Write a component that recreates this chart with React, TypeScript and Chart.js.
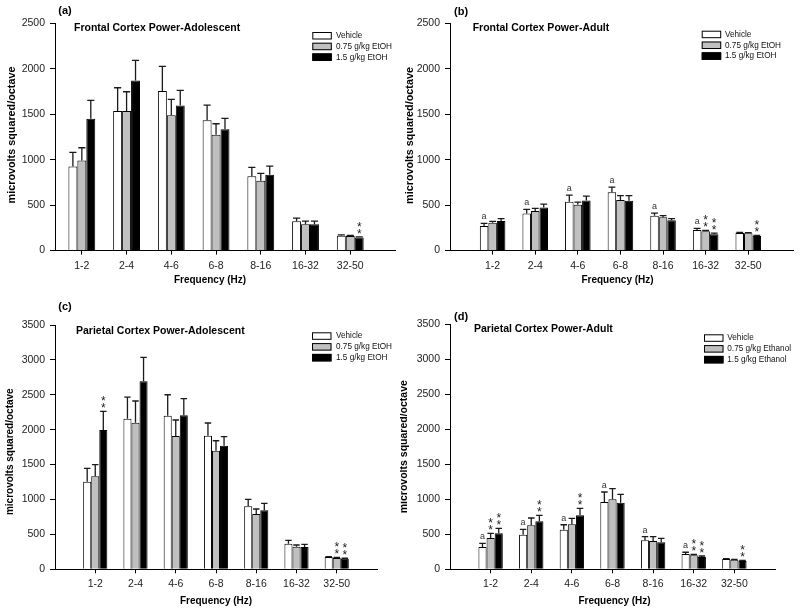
import React, { useEffect, useRef } from 'react';
import { Chart, registerables } from 'chart.js';

Chart.register(...registerables);

// ---------- shared labels ----------
const categories = ['1-2', '2-4', '4-6', '6-8', '8-16', '16-32', '32-50'];
const legendEtOH = ['Vehicle', '0.75 g/kg EtOH', '1.5 g/kg EtOH'];
const legendEthanol = ['Vehicle', '0.75 g/kg Ethanol', '1.5 g/kg Ethanol'];
const yTicksFrontal = [0, 500, 1000, 1500, 2000, 2500];
const yTicksParietal = [0, 500, 1000, 1500, 2000, 2500, 3000, 3500];
const xAxisTitle = 'Frequency (Hz)';
const yAxisTitle = 'microvolts squared/octave';

// ---------- (a) Frontal Cortex Power-Adolescent ----------
const aVehicle = [925, 1535, 1755, 1435, 819, 324, 163];
const aVehicleSem = [155, 256, 271, 165, 96, 33, 11];
const aLow = [990, 1535, 1490, 1274, 768, 291, 160];
const aLowSem = [141, 212, 173, 121, 81, 33, 7];
const aHigh = [1450, 1872, 1597, 1336, 834, 291, 145];
const aHighSem = [202, 220, 165, 118, 96, 33, 7];
const aVehicleMarks = ['', '', '', '', '', '', ''];
const aLowMarks = ['', '', '', '', '', '', ''];
const aHighMarks = ['', '', '', '', '', '', '**'];

// ---------- (b) Frontal Cortex Power-Adult ----------
const bVehicle = [270, 409, 537, 641, 384, 226, 193];
const bVehicleSem = [29, 44, 73, 58, 29, 18, 8];
const bLow = [307, 435, 505, 557, 366, 212, 190];
const bLowSem = [15, 30, 29, 47, 18, 11, 7];
const bHigh = [325, 475, 552, 549, 333, 179, 160];
const bHighSem = [26, 37, 48, 55, 18, 14, 8];
const bVehicleMarks = ['a', 'a', 'a', 'a', 'a', 'a', ''];
const bLowMarks = ['', '', '', '', '', '**', ''];
const bHighMarks = ['', '', '', '', '', '**', '**'];

// ---------- (c) Parietal Cortex Power-Adolescent ----------
const cVehicle = [1255, 2158, 2201, 1914, 902, 367, 176];
const cVehicleSem = [192, 310, 300, 182, 101, 48, 6];
const cLow = [1332, 2100, 1910, 1699, 792, 324, 162];
const cLowSem = [167, 311, 229, 143, 72, 24, 10];
const cHigh = [1996, 2693, 2206, 1771, 845, 319, 152];
const cHighSem = [267, 344, 238, 129, 100, 39, 6];
const cVehicleMarks = ['', '', '', '', '', '', ''];
const cLowMarks = ['', '', '', '', '', '', '**'];
const cHighMarks = ['**', '', '', '', '', '', '**'];

// ---------- (d) Parietal Cortex Power-Adult ----------
const dVehicle = [318, 494, 565, 960, 414, 218, 147];
const dVehicleSem = [53, 77, 71, 143, 51, 25, 5];
const dLow = [446, 628, 642, 999, 404, 200, 137];
const dLowSem = [67, 104, 86, 151, 61, 14, 5];
const dHigh = [513, 685, 770, 950, 385, 175, 118];
const dHighSem = [72, 85, 100, 120, 57, 15, 10];
const dVehicleMarks = ['a', 'a', 'a', 'a', 'a', 'a', ''];
const dLowMarks = ['**', '', '', '', '', '**', ''];
const dHighMarks = ['**', '**', '**', '', '', '**', '**'];

// ---------- styling ----------
const FONT = "'Liberation Sans', Arial, Helvetica, sans-serif";
const COLORS = ['#ffffff', '#c0c0c0', '#000000'];

type PanelCfg = {
  left: number; top: number; width: number; height: number;
  area: { l: number; r: number; t: number; b: number };
  xMin: number; xMax: number; yMax: number; yTicks: number[];
  means: number[][]; sems: number[][]; marks: string[][];
  legend: string[]; label: string; title: string;
  labelPos: [number, number]; titlePos: [number, number];
  legendPos: { bx: number; by: number; pitch: number; tx: number };
  yTitlePos: [number, number]; yTitleSize: number;
  xTitlePos: [number, number];
};

const panels: PanelCfg[] = [
  {
    left: 0, top: 0, width: 400, height: 300,
    area: { l: 55, r: 395, t: 23.3, b: 250.6 },
    xMin: 0.4, xMax: 8, yMax: 2500, yTicks: yTicksFrontal,
    means: [aVehicle, aLow, aHigh], sems: [aVehicleSem, aLowSem, aHighSem],
    marks: [aVehicleMarks, aLowMarks, aHighMarks],
    legend: legendEtOH, label: '(a)', title: 'Frontal Cortex Power-Adolescent',
    labelPos: [58.3, 11], titlePos: [74, 28.3],
    legendPos: { bx: 312.3, by: 32, pitch: 10.7, tx: 336 },
    yTitlePos: [12, 135], yTitleSize: 10.8, xTitlePos: [210, 280],
  },
  {
    left: 400, top: 0, width: 400, height: 300,
    area: { l: 50, r: 393, t: 23.3, b: 250.6 },
    xMin: 0, xMax: 8.05, yMax: 2500, yTicks: yTicksFrontal,
    means: [bVehicle, bLow, bHigh], sems: [bVehicleSem, bLowSem, bHighSem],
    marks: [bVehicleMarks, bLowMarks, bHighMarks],
    legend: legendEtOH, label: '(b)', title: 'Frontal Cortex Power-Adult',
    labelPos: [54, 12], titlePos: [72.7, 28.3],
    legendPos: { bx: 301.7, by: 30.7, pitch: 10.8, tx: 325 },
    yTitlePos: [10, 135.5], yTitleSize: 10.8, xTitlePos: [217.5, 280],
  },
  {
    left: 0, top: 300, width: 400, height: 314,
    area: { l: 55, r: 377, t: 25, b: 269.3 },
    xMin: 0, xMax: 8, yMax: 3500, yTicks: yTicksParietal,
    means: [cVehicle, cLow, cHigh], sems: [cVehicleSem, cLowSem, cHighSem],
    marks: [cVehicleMarks, cLowMarks, cHighMarks],
    legend: legendEtOH, label: '(c)', title: 'Parietal Cortex Power-Adolescent',
    labelPos: [58.3, 7], titlePos: [76, 30.7],
    legendPos: { bx: 312, by: 32.3, pitch: 10.8, tx: 336 },
    yTitlePos: [10, 151.7], yTitleSize: 10, xTitlePos: [216, 301.7],
  },
  {
    left: 400, top: 300, width: 400, height: 314,
    area: { l: 50, r: 375, t: 24, b: 269.3 },
    xMin: 0, xMax: 8, yMax: 3500, yTicks: yTicksParietal,
    means: [dVehicle, dLow, dHigh], sems: [dVehicleSem, dLowSem, dHighSem],
    marks: [dVehicleMarks, dLowMarks, dHighMarks],
    legend: legendEthanol, label: '(d)', title: 'Parietal Cortex Power-Adult',
    labelPos: [54, 17], titlePos: [74, 29.3],
    legendPos: { bx: 304, by: 34.3, pitch: 10.8, tx: 327.3 },
    yTitlePos: [4.5, 146.7], yTitleSize: 10.5, xTitlePos: [214.5, 301.7],
  },
];

// ---------- plugins ----------
const errorBarPlugin = {
  id: 'errorBarsAndMarks',
  afterDatasetsDraw(chart: any) {
    const ctx = chart.ctx as CanvasRenderingContext2D;
    const yScale = chart.scales.y;
    chart.data.datasets.forEach((ds: any, i: number) => {
      const meta = chart.getDatasetMeta(i);
      meta.data.forEach((bar: any, j: number) => {
        const p = bar.getProps(['x', 'y', 'width'], true);
        const v = ds.data[j].y;
        const capY = yScale.getPixelForValue(v + ds.sem[j]);
        const half = p.width * 0.4;
        ctx.save();
        ctx.strokeStyle = '#1a1a1a';
        ctx.lineWidth = 1.3;
        ctx.beginPath();
        ctx.moveTo(p.x, p.y);
        ctx.lineTo(p.x, capY);
        ctx.moveTo(p.x - half, capY);
        ctx.lineTo(p.x + half, capY);
        ctx.stroke();
        const mark: string = ds.marks[j] || '';
        if (mark === 'a') {
          ctx.fillStyle = '#333';
          ctx.font = `9px ${FONT}`;
          ctx.textAlign = 'center';
          ctx.textBaseline = 'middle';
          ctx.fillText('a', p.x, capY - 6.5);
        } else if (mark.length) {
          ctx.fillStyle = '#222';
          ctx.font = `12px ${FONT}`;
          ctx.textAlign = 'center';
          ctx.textBaseline = 'alphabetic';
          for (let k = 0; k < mark.length; k++) {
            const cy = capY - 6 - 7 * k;
            ctx.fillText('*', p.x, cy + 0.58 * 12);
          }
        }
        ctx.restore();
      });
    });
  },
};

function makeTextPlugin(cfg: PanelCfg) {
  return {
    id: 'panelText',
    afterDraw(chart: any) {
      const ctx = chart.ctx as CanvasRenderingContext2D;
      ctx.save();
      ctx.textBaseline = 'middle';
      ctx.textAlign = 'left';
      ctx.fillStyle = '#000';
      ctx.font = `bold 11px ${FONT}`;
      ctx.fillText(cfg.label, cfg.labelPos[0], cfg.labelPos[1]);
      ctx.font = `bold 10.5px ${FONT}`;
      ctx.fillText(cfg.title, cfg.titlePos[0], cfg.titlePos[1]);
      const lp = cfg.legendPos;
      cfg.legend.forEach((t, i) => {
        const y = lp.by + i * lp.pitch;
        ctx.fillStyle = COLORS[i];
        ctx.fillRect(lp.bx, y, 19.5, 7.5);
        ctx.strokeStyle = '#000';
        ctx.lineWidth = 1;
        ctx.strokeRect(lp.bx + 0.5, y + 0.5, 18.5, 6.5);
        ctx.fillStyle = '#111';
        ctx.font = `8.2px ${FONT}`;
        ctx.fillText(t, lp.tx, y + 3.9);
      });
      ctx.fillStyle = '#000';
      ctx.font = `bold 10px ${FONT}`;
      ctx.textAlign = 'center';
      ctx.fillText(xAxisTitle, cfg.xTitlePos[0], cfg.xTitlePos[1]);
      ctx.translate(cfg.yTitlePos[0], cfg.yTitlePos[1]);
      ctx.rotate(-Math.PI / 2);
      ctx.font = `bold ${cfg.yTitleSize}px ${FONT}`;
      ctx.fillText(yAxisTitle, 0, 0);
      ctx.restore();
    },
  };
}

function Panel({ cfg }: { cfg: PanelCfg }) {
  const ref = useRef<HTMLCanvasElement>(null);
  useEffect(() => {
    const canvas = ref.current;
    if (!canvas) return;
    const chart = new Chart(canvas, {
      type: 'bar',
      data: {
        datasets: cfg.means.map((m, s) => ({
          label: cfg.legend[s],
          data: m.map((v, i) => ({ x: i + 1, y: v })),
          backgroundColor: COLORS[s],
          borderColor: '#000',
          borderWidth: 1,
          categoryPercentage: 0.6,
          barPercentage: 1,
          sem: cfg.sems[s],
          marks: cfg.marks[s],
        })) as any,
      },
      options: {
        responsive: false,
        animation: false,
        devicePixelRatio: 1,
        layout: { padding: { left: 0, top: cfg.area.t, right: cfg.width - cfg.area.r, bottom: 0 } },
        plugins: { legend: { display: false }, tooltip: { enabled: false }, title: { display: false } },
        scales: {
          x: {
            type: 'linear',
            min: cfg.xMin,
            max: cfg.xMax,
            offset: false,
            grid: { offset: false, drawOnChartArea: false, drawTicks: true, tickLength: 4, color: '#000', lineWidth: 1 },
            border: { display: true, color: '#000', width: 1 },
            afterBuildTicks: (s: any) => { s.ticks = categories.map((_, i) => ({ value: i + 1 })); },
            afterFit: (s: any) => { s.height = cfg.height - cfg.area.b; },
            ticks: {
              callback: (_v: any, i: number) => categories[i],
              font: { family: FONT, size: 10.5 },
              color: '#222',
              padding: 5,
              maxRotation: 0,
              autoSkip: false,
            },
          },
          y: {
            type: 'linear',
            min: 0,
            max: cfg.yMax,
            grid: { drawOnChartArea: false, drawTicks: true, tickLength: 5, color: '#000', lineWidth: 1 },
            border: { display: true, color: '#000', width: 1 },
            afterBuildTicks: (s: any) => { s.ticks = cfg.yTicks.map((v) => ({ value: v })); },
            afterFit: (s: any) => { s.width = cfg.area.l; },
            ticks: {
              callback: (v: any) => String(v),
              font: { family: FONT, size: 10.5 },
              color: '#222',
              padding: 5,
            },
          },
        },
      } as any,
      plugins: [errorBarPlugin, makeTextPlugin(cfg)],
    });
    return () => chart.destroy();
  }, [cfg]);
  return (
    <canvas
      ref={ref}
      width={cfg.width}
      height={cfg.height}
      style={{ position: 'absolute', left: cfg.left, top: cfg.top, width: cfg.width, height: cfg.height }}
    />
  );
}

export default function App() {
  return (
    <div style={{ position: 'absolute', left: 0, top: 0, width: 800, height: 614, background: '#fff', overflow: 'hidden' }}>
      {panels.map((p) => (
        <Panel key={p.label} cfg={p} />
      ))}
    </div>
  );
}
